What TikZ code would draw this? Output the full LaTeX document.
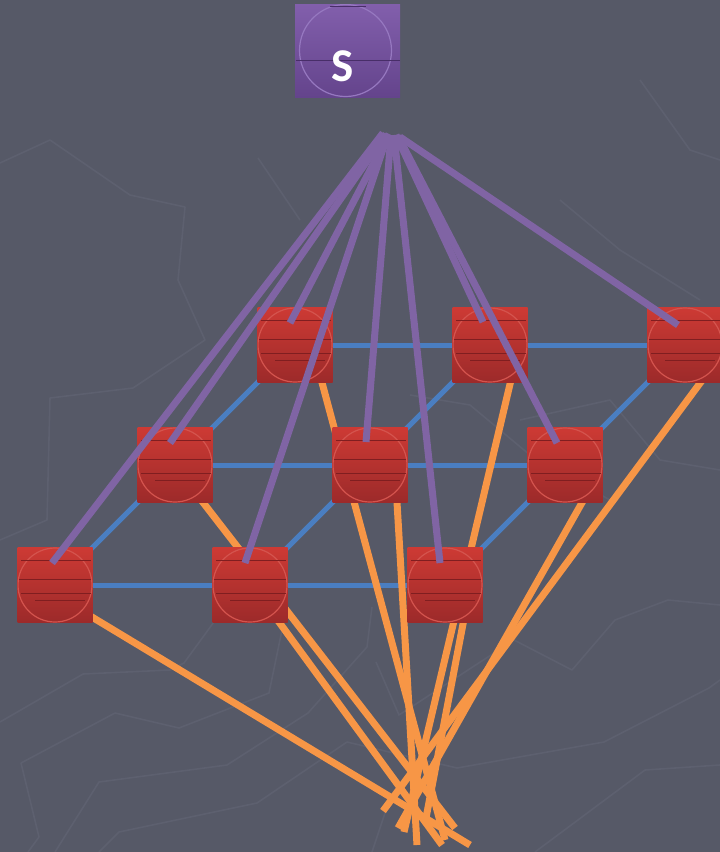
\documentclass[tikz,border=0pt]{standalone}
\usepackage{fontspec}
\newfontfamily\labelfont{Carlito}[BoldFont={Carlito Bold}]
\usetikzlibrary{calc}

\definecolor{bgGray}{RGB}{86,89,103}
\definecolor{bgLine}{RGB}{93,96,111}
\definecolor{linkBlue}{RGB}{74,126,193}
\definecolor{linkOrange}{RGB}{247,150,70}
\definecolor{linkPurple}{RGB}{128,100,164}
\definecolor{cellTop}{RGB}{205,58,52}
\definecolor{cellBot}{RGB}{156,42,42}
\definecolor{cellRim}{RGB}{212,84,78}
\definecolor{cellLine}{RGB}{128,30,32}
\definecolor{srcTop}{RGB}{130,95,172}
\definecolor{srcBot}{RGB}{100,68,140}
\definecolor{srcRim}{RGB}{150,120,192}
\definecolor{srcLine}{RGB}{72,46,104}

\pgfdeclarelayer{back}
\pgfdeclarelayer{edges}
\pgfdeclarelayer{front}
\pgfsetlayers{back,edges,main,front}

\tikzset{
  cell/.style={rectangle, minimum width=75pt, minimum height=75pt, inner sep=0pt,
    top color=cellTop, bottom color=cellBot,
    path picture={
      \draw[cellRim, line width=1.2pt] (path picture bounding box.center) circle (37pt);
      \foreach \dy/\dx/\w in {-25/-34/70, -6/-36/72, 8/-34/70, 15/-20/50}
        \draw[cellLine, line width=0.9pt]
          ($(path picture bounding box.center)+(\dx,\dy)$) -- ++(\w,0);
    }},
  source/.style={rectangle, minimum width=105pt, minimum height=93pt, inner sep=0pt,
    top color=srcTop, bottom color=srcBot,
    path picture={
      \draw[srcRim, line width=1.2pt] ($(path picture bounding box.center)+(-2,0)$) circle (46pt);
      \draw[srcLine, line width=1pt]
        ($(path picture bounding box.center)+(-52,10)$) -- ++(104,0);
      \draw[srcLine, line width=1pt]
        ($(path picture bounding box.center)+(-18,-44)$) -- ++(36,0);
    }},
  gridlink/.style={linkBlue, line width=5pt},
  sinklink/.style={linkOrange, line width=7pt},
  feedlink/.style={linkPurple, line width=7pt},
  faint/.style={bgLine, line width=1.6pt, line join=round}
}

\begin{document}
\begin{tikzpicture}[x=1pt, y=-1pt]
  \useasboundingbox (0,0) rectangle (720,852);

  % backdrop with faint contour lines
  \begin{pgfonlayer}{back}
    \fill[bgGray] (0,0) rectangle (720,852);
    \draw[faint] (0,163) -- (50,140) -- (130,195) -- (185,207) -- (178,280)
      -- (205,340) -- (133,388) -- (50,398) -- (47,520) -- (0,540);
    \draw[faint] (258,158) -- (300,220);
    \draw[faint] (0,722) -- (83,674) -- (170,670) -- (184,663) -- (230,600);
    \draw[faint] (21,763) -- (115,713) -- (179,728) -- (269,693) -- (282,630) -- (276,560);
    \draw[faint] (21,763) -- (39,837) -- (28,852);
    \draw[faint] (55,852) -- (99,782) -- (227,765) -- (308,713) -- (367,647) -- (372,607);
    \draw[faint] (99,852) -- (119,832) -- (257,803) -- (347,742) -- (457,768)
      -- (604,742) -- (709,688) -- (720,680);
    \draw[faint] (376,662) -- (399,715) -- (514,640) -- (572,670) -- (615,620)
      -- (668,600) -- (720,605);
    \draw[faint] (535,852) -- (645,770) -- (720,765);
    \draw[faint] (372,852) -- (386,810);
    \draw[faint] (520,420) -- (610,400) -- (660,460) -- (720,470);
    \draw[faint] (410,395) -- (470,405) -- (530,455) -- (610,500);
    \draw[faint] (640,80) -- (690,150) -- (720,160);
    \draw[faint] (560,200) -- (620,250) -- (700,300);
  \end{pgfonlayer}

  % source block
  \node[source] (src) at (347.5,50.5) {};
  \node[text=white, font=\labelfont\bfseries\fontsize{47}{47}\selectfont,
        inner sep=0pt] (srclabel) at (342.5,66) {S};

  % 3x3 lattice of cells
  \node[cell] (n11) at (295,345) {};
  \node[cell] (n12) at (490,345) {};
  \node[cell] (n13) at (685,345) {};
  \node[cell] (n21) at (175,465) {};
  \node[cell] (n22) at (370,465) {};
  \node[cell] (n23) at (565,465) {};
  \node[cell] (n31) at (55,585) {};
  \node[cell] (n32) at (250,585) {};
  \node[cell] (n33) at (445,585) {};

  % lattice links
  \begin{pgfonlayer}{edges}
    \foreach \a/\b in {n11/n12, n12/n13, n21/n22, n22/n23, n31/n32, n32/n33,
                       n31/n21, n21/n11, n32/n22, n22/n12, n33/n23, n23/n13}
      \draw[gridlink] (\a.center) -- (\b.center);
  \end{pgfonlayer}

  % drain links to the sink bundle
  \coordinate (d31) at (470,845);
  \coordinate (d21) at (455,828);
  \coordinate (d32) at (442,845);
  \coordinate (d11) at (445,840);
  \coordinate (d22) at (417,845);
  \coordinate (d12) at (404,832);
  \coordinate (d33) at (426,818);
  \coordinate (d23) at (398,828);
  \coordinate (d13) at (383,811);
  \begin{pgfonlayer}{edges}
    \foreach \n/\ox/\oy in {31/17/20, 21/13/18, 32/18/22, 11/22/19, 22/26/20,
                            12/25/18, 33/22/18, 23/27/20, 13/27/22}
      \draw[sinklink] ($(n\n.center)+(\ox,\oy)$) -- (d\n);
  \end{pgfonlayer}

  % feed links from the source
  \coordinate (feed) at (391,135);
  \begin{pgfonlayer}{front}
    \foreach \n/\sx/\sy/\ex/\ey in {31/-8/-2/-3/-22, 21/-5/-1/-5/-22, 32/-3/-1/-5/-22,
                                    11/-2/-1/-5/-22, 22/0/0/-4/-23, 33/3/0/-5/-22,
                                    12/5/0/-7/-23, 23/7/1/-8/-22, 13/9/2/-7/-20}
      \draw[feedlink] ($(feed)+(\sx,\sy)$) -- ($(n\n.center)+(\ex,\ey)$);
  \end{pgfonlayer}
\end{tikzpicture}
\end{document}
